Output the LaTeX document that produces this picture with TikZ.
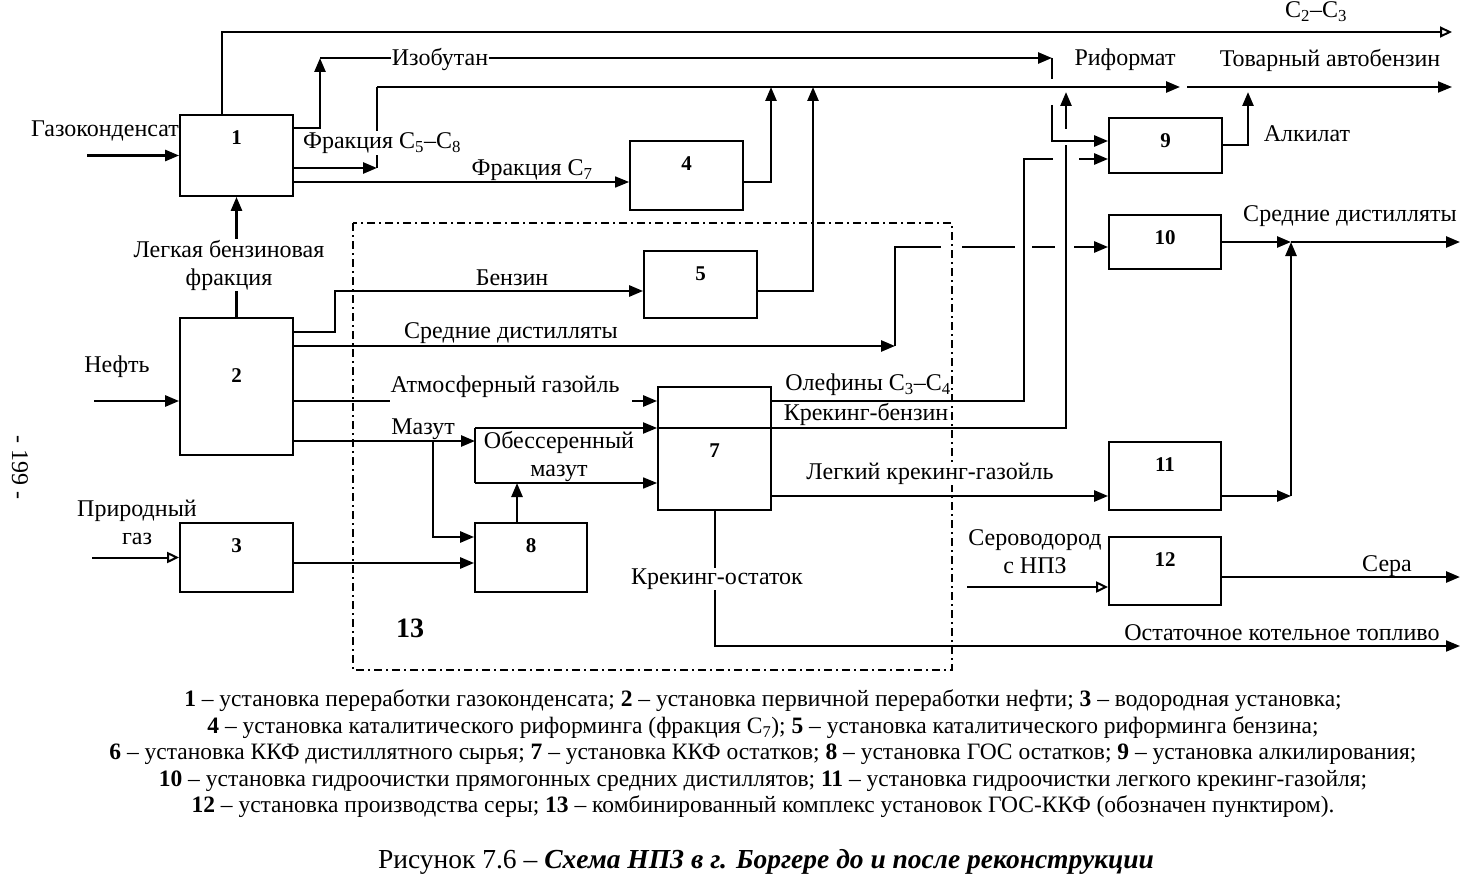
\documentclass[tikz,border=0pt]{standalone}
\usepackage{fontspec}
\setmainfont{Liberation Serif}
\usetikzlibrary{arrows.meta}

\tikzset{
  unit/.style={draw, line width=1.8pt, minimum width=113pt, inner sep=0pt},
  num/.style={font=\fontsize{21}{26}\selectfont\bfseries, anchor=north, inner sep=0pt, yshift=-16pt},
  lbl/.style={font=\fontsize{24}{28}\selectfont, inner sep=1pt, align=center},
  wlbl/.style={lbl, fill=white},
  flow/.style={line width=2.6pt, -{Triangle[length=14pt,width=11pt]}},
  oflow/.style={line width=2pt, -{Triangle[open,length=12pt,width=11pt,line width=2pt]}},
  pipe/.style={line width=2.6pt},
  fine/.style={line width=1.4pt},
  border13/.style={line width=1.5pt, dash pattern=on 8pt off 4pt on 2pt off 4pt},
}

\begin{document}
\begin{tikzpicture}[x=1pt,y=-1pt]
\useasboundingbox (0,0) rectangle (1464,888);

% combined complex 13
\draw[border13] (353,223) rectangle (952,670);
\node[font=\fontsize{28}{30}\selectfont\bfseries] (n13) at (410,628) {13};
% labels that hide the frame
\node[wlbl, inner sep=0pt] (lol) at (868,385) {Олефины C\textsubscript{3}–C\textsubscript{4}};
\node[wlbl, inner sep=0pt] (lkb) at (866,414) {Крекинг-бензин};
\node[wlbl, inner sep=0pt] (llkg) at (930,474) {Легкий крекинг-газойль};

% units
\node[unit, minimum height=81pt, label={[num]north:1}] (u1) at (236.5,155.5) {};
\node[unit, minimum height=137pt, label={[num,yshift=-35pt]north:2}] (u2) at (236.5,386.5) {};
\node[unit, minimum height=69pt, label={[num]north:3}] (u3) at (236.5,557.5) {};
\node[unit, minimum height=69pt, label={[num]north:4}] (u4) at (686.5,175.5) {};
\node[unit, minimum height=67pt, label={[num]north:5}] (u5) at (700.5,284.5) {};
\node[unit, minimum height=123pt, label={[num,yshift=-41pt]north:7}] (u7) at (714.5,448.5) {};
\node[unit, minimum width=112pt, minimum height=69pt, label={[num]north:8}] (u8) at (531,557.5) {};
\node[unit, minimum height=55pt, label={[num]north:9}] (u9) at (1165.5,145.5) {};
\node[unit, minimum width=112pt, minimum height=54pt, label={[num]north:10}] (u10) at (1165,242) {};
\node[unit, minimum width=112pt, minimum height=68pt, label={[num]north:11}] (u11) at (1165,476) {};
\node[unit, minimum width=112pt, minimum height=68pt, label={[num]north:12}] (u12) at (1165,571) {};

% corner points
\coordinate (gk) at (87,155.5);
\coordinate (neft) at (94,401);
\coordinate (pg) at (92,557.5);
\coordinate (c23) at (1452,32);
\coordinate (iso) at (320,58);
\coordinate (isoB) at (1052,58);
\coordinate (isoC) at (1052,79);
\coordinate (isoD) at (1052,105);
\coordinate (frA) at (377,168);
\coordinate (ref0) at (377,87);
\coordinate (ref) at (1180,87);
\coordinate (tov0) at (1187,87);
\coordinate (tov) at (1452,87);
\coordinate (bz) at (335,291);
\coordinate (sdA) at (391,346);
\coordinate (sdB) at (631,346);
\coordinate (sdC) at (895,346);
\coordinate (sdD) at (941,247);
\coordinate (atA) at (390,401);
\coordinate (atB) at (632,401);
\coordinate (mz) at (475,441);
\coordinate (mzB) at (433,441);
\coordinate (dmA) at (475,428);
\coordinate (dmB) at (475,483);
\coordinate (olA) at (1024,159);
\coordinate (olB) at (1053,159);
\coordinate (olC) at (1079,159);
\coordinate (kbA) at (1066,428);
\coordinate (kbB) at (1066,145);
\coordinate (kbC) at (1066,129);
\coordinate (kbD) at (1066,92);
\coordinate (sdj) at (1291,242);
\coordinate (sdk) at (1291,496);
\coordinate (sdout) at (1460,242);
\coordinate (sv) at (967,587);
\coordinate (sera) at (1460,577);
\coordinate (kot) at (1460,646);

% inputs
\draw[flow] (gk) -- (u1.west);
\draw[flow] (neft) -- ([yshift=-14.5pt]u2.west);
\draw[oflow] (pg) -- (u3.west);
\draw[oflow] (sv) -- (u12.west |- sv);

% unit 1
\draw[oflow] ([xshift=-14.5pt]u1.north) |- (c23);
\draw[flow] ([yshift=27.5pt]u1.east) -| (iso);
\draw[flow] (iso) -- (isoB);
\draw[pipe] (isoB) -- (isoC);
\draw[flow] (isoD) |- (u9.west |- 0,141);
\draw[flow] ([yshift=-12.5pt]u1.east) -- (frA);
\draw[pipe] (frA) -- (ref0);
\draw[flow] (ref0) -- (ref);
\draw[flow, line width=1.8pt] (tov0) -- (tov);
\draw[pipe] ([yshift=-26.5pt]u1.east) coordinate (f7) -- (475,182);
\draw[flow, line width=1.6pt] (475,182) -- (u4.west |- f7);
\draw[flow] (u2.north) -- (u1.south);

% units 4, 5, 9
\draw[flow] ([yshift=-6.5pt]u4.east) -| (771,87);
\draw[flow] ([yshift=-6.5pt]u5.east) -| (813,87);
\draw[flow] ([yshift=0.5pt]u9.east) -| (1248,92);

% unit 2
\draw[flow] ([yshift=54.5pt]u2.east) -| (bz) -- (u5.west |- bz);
\draw[pipe] ([yshift=40.5pt]u2.east) -- (sdA);
\draw[fine] (sdA) -- (sdB);
\draw[flow] (sdB) -- (sdC);
\draw[pipe] (sdC) |- (sdD);
\draw[fine] (962,247) -- (1015,247);
\draw[fine] (1032,247) -- (1055,247);
\draw[flow] (1074,247) -- ([yshift=-5pt]u10.west);
\draw[pipe] ([yshift=-14.5pt]u2.east) -- (atA);
\draw[flow] (atB) -- (u7.west |- atB);
\draw[flow] ([yshift=-54.5pt]u2.east) -- (mz);
\draw[flow] (mzB) |- ([yshift=20.5pt]u8.west);
\draw[flow] ([yshift=-5.5pt]u3.east) -- ([yshift=-5.5pt]u8.west);

% desulphurised residue
\draw[fine] (dmA) -- (dmB);
\draw[flow, line width=2pt] (dmA) -- (u7.west |- dmA);
\draw[line width=2pt] (u7.west |- dmA) -- (kbA) -- (kbB);
\draw[flow] (kbC) -- (kbD);
\draw[flow, line width=1.6pt] (dmB) -- (u7.west |- dmB);
\draw[flow] ([xshift=-14pt]u8.north) -- ([xshift=-14pt]u8.north |- dmB);

% unit 7
\draw[line width=2pt] (u7.east |- atB) -| (olA) -- (olB);
\draw[flow] (olC) -- (u9.west |- olC);
\draw[flow] ([yshift=-47.5pt]u7.east) -- ([yshift=-20pt]u11.west);
\draw[line width=2pt, -{Triangle[length=14pt,width=11pt]}] (u7.south) |- (kot);

% units 10, 11, 12
\draw[flow] (u10.east) -- (sdj);
\draw[flow] (sdj) -- (sdout);
\draw[flow] ([yshift=-20pt]u11.east) -- (sdk);
\draw[flow] (sdk) -- (sdj);
\draw[flow] ([yshift=-6pt]u12.east) -- (sera);

% labels
\node[lbl] (l23) at (1316,12) {C\textsubscript{2}–C\textsubscript{3}};
\node[wlbl] (liso) at (440,60) {Изобутан};
\node[wlbl] (lc58) at (382,143) {Фракция C\textsubscript{5}–C\textsubscript{8}};
\node[lbl] (lc7) at (532,170) {Фракция C\textsubscript{7}};
\node[lbl] (lref) at (1125,60) {Риформат};
\node[lbl] (ltov) at (1330,60) {Товарный автобензин};
\node[lbl] (lalk) at (1307,134) {Алкилат};
\node[lbl] (lgk) at (105,131) {Газоконденсат};
\node[wlbl] (llbf) at (229,265) {Легкая бензиновая\\фракция};
\node[lbl] (lbz) at (512,278) {Бензин};
\node[lbl] (lsd) at (511,333) {Средние дистилляты};
\node[lbl] (lneft) at (117,367) {Нефть};
\node[lbl] (latm) at (505,387) {Атмосферный газойль};
\node[lbl] (lmz) at (423,429) {Мазут};
\node[lbl] (ldm) at (559,456) {Обессеренный\\мазут};
\node[lbl] (lpg) at (137,522) {Природный\\газ};
\node[wlbl] (lko) at (717,579) {Крекинг-остаток};
\node[lbl] (lsv) at (1035,552) {Сероводород\\с НПЗ};
\node[lbl] (lsera) at (1387,566) {Сера};
\node[lbl] (lsd2) at (1350,216) {Средние дистилляты};
\node[lbl] (lkot) at (1282,633) {Остаточное котельное топливо};
\node[lbl, rotate=-90] (page) at (20,467) {- 199 -};

% legend
\node[font=\fontsize{23.5}{26.5}\selectfont, align=center] (legend) at (763,754) {%
\textbf{1} – установка переработки газоконденсата; \textbf{2} – установка первичной переработки нефти; \textbf{3} – водородная установка;\\
\textbf{4} – установка каталитического риформинга (фракция C\textsubscript{7}); \textbf{5} – установка каталитического риформинга бензина;\\
\textbf{6} – установка ККФ дистиллятного сырья; \textbf{7} – установка ККФ остатков; \textbf{8} – установка ГОС остатков; \textbf{9} – установка алкилирования;\\
\textbf{10} – установка гидроочистки прямогонных средних дистиллятов; \textbf{11} – установка гидроочистки легкого крекинг-газойля;\\
\textbf{12} – установка производства серы; \textbf{13} – комбинированный комплекс установок ГОС-ККФ (обозначен пунктиром).};
\node[font=\fontsize{27.5}{30}\selectfont] (caption) at (766,862) {Рисунок 7.6 – \textbf{\textit{Схема НПЗ в г. Боргере до и после реконструкции}}};
\end{tikzpicture}
\end{document}
